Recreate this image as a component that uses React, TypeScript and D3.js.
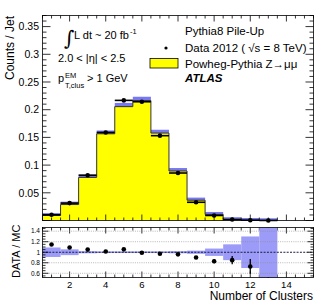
import React from "react";
import * as d3 from "d3";

const bins = [1, 2, 3, 4, 5, 6, 7, 8, 9, 10, 11, 12, 13];
const mcValues = [0.009, 0.0288, 0.0778, 0.1565, 0.2055, 0.2165, 0.1578, 0.0893, 0.0366, 0.011, 0.002, 0.0007, 0.0002];
const dataValues = [0.0103, 0.0314, 0.0817, 0.1589, 0.2168, 0.2143, 0.1531, 0.0857, 0.0329, 0.0091, 0.0017, 0.0005, 0.0001];
const mcRelErr = [0.09, 0.055, 0.02, 0.015, 0.015, 0.015, 0.015, 0.02, 0.03, 0.07, 0.15, 0.3, 1.0];
const ratioValues = [1.146, 1.09, 1.05, 1.015, 1.055, 0.99, 0.97, 0.96, 0.9, 0.83, 0.85, 0.73, 0.4];
const ratioErr = [0.01, 0.01, 0.01, 0.01, 0.01, 0.01, 0.01, 0.01, 0.02, 0.04, 0.08, 0.14, 0.13];
const xTickLabels = [2, 4, 6, 8, 10, 12, 14];
const yMainTickLabels = [0.05, 0.1, 0.15, 0.2, 0.25, 0.3, 0.35];
const yRatioTickLabels = [0.6, 0.8, 1, 1.2, 1.4];

const FONT = "'Liberation Sans', Arial, Helvetica, sans-serif";

export default function App() {
  const W = 329, H = 305;
  const left = 42.5, right = 313.5;
  const mainTop = 15.5, mainBot = 220.5;
  const rTop = 227.5, rBot = 277.5;

  const x = d3.scaleLinear().domain([0.5, 15.5]).range([left, right]);
  const y = d3.scaleLinear().domain([0, 0.37]).range([mainBot, mainTop]);
  const yr = d3.scaleLinear().domain([0.52, 1.47]).range([rBot, rTop]);

  const stepPts: [number, number][] = bins.map((b, i) => [b - 0.5, mcValues[i]]);
  stepPts.push([bins[bins.length - 1] + 0.5, mcValues[mcValues.length - 1]]);
  const area = d3.area<[number, number]>().x(d => x(d[0])).y0(y(0)).y1(d => y(d[1])).curve(d3.curveStepAfter);
  const line = d3.line<[number, number]>().x(d => x(d[0])).y(d => y(d[1])).curve(d3.curveStepAfter);
  const outline = `M${x(0.5)},${y(0)}L` + line(stepPts)!.slice(1) + `L${x(13.5)},${y(0)}`;

  const minorX = d3.range(0.5, 15.5001, 0.5);
  const majorX = d3.range(2, 15, 2);
  const minorYMain = d3.range(0, 0.3701, 0.01);
  const majorYMain = d3.range(0, 0.3701, 0.05);
  const minorYR = d3.range(0.55, 1.4701, 0.05);

  const axisStroke = { stroke: "#000", strokeWidth: 0.8 };

  return (
    <svg width={W} height={H} style={{ display: "block", position: "absolute", left: 0, top: 0 }} fontFamily={FONT}>
      <rect x={0} y={0} width={W} height={H} fill="#fff" />
      {/* main panel: band, fill, outline */}
      {bins.map((b, i) => (
        <rect key={"band" + i} x={x(b - 0.5)} width={x(b + 0.5) - x(b - 0.5)}
          y={y(mcValues[i] * (1 + mcRelErr[i])) - 2}
          height={y(mcValues[i] * (1 - mcRelErr[i])) - y(mcValues[i] * (1 + mcRelErr[i])) + 2}
          fill="#7878f0" />
      ))}
      <path d={area(stepPts)!} fill="#ffff00" />
      <path d={outline} fill="none" stroke="#333" strokeWidth={1} />
      {/* data */}
      {bins.map((b, i) => (
        <g key={"d" + i}>
          <line x1={x(b - 0.5)} x2={x(b + 0.5)} y1={y(dataValues[i])} y2={y(dataValues[i])} stroke="#000" strokeWidth={1.6} />
          <circle cx={x(b)} cy={y(dataValues[i])} r={2.3} fill="#000" />
        </g>
      ))}
      {/* main frame + ticks */}
      <rect x={left} y={mainTop} width={right - left} height={mainBot - mainTop} fill="none" {...axisStroke} />
      {minorX.map((v, i) => {
        const maj = majorX.includes(v);
        const len = maj ? 6 : 3;
        return (
          <g key={"mx" + i}>
            <line x1={x(v)} x2={x(v)} y1={mainBot} y2={mainBot - len} {...axisStroke} />
            <line x1={x(v)} x2={x(v)} y1={mainTop} y2={mainTop + len} {...axisStroke} />
            <line x1={x(v)} x2={x(v)} y1={rBot} y2={rBot - len} {...axisStroke} />
            <line x1={x(v)} x2={x(v)} y1={rTop} y2={rTop + len} {...axisStroke} />
          </g>
        );
      })}
      {minorYMain.map((v, i) => {
        const maj = majorYMain.some(m => Math.abs(m - v) < 1e-6);
        const len = maj ? 8 : 4;
        return (
          <g key={"my" + i}>
            <line x1={left} x2={left + len} y1={y(v)} y2={y(v)} {...axisStroke} />
            <line x1={right} x2={right - len} y1={y(v)} y2={y(v)} {...axisStroke} />
          </g>
        );
      })}
      {yMainTickLabels.map(v => (
        <text key={"yl" + v} x={39} y={y(v) + 3.8} fontSize={10.5} textAnchor="end">{String(v)}</text>
      ))}
      <text transform="translate(14,16) rotate(-90)" fontSize={12} textAnchor="end">Counts / Jet</text>

      {/* text annotations */}
      <text x={64} y={45} fontSize={20} fontFamily="'DejaVu Serif', serif">∫</text>
      <text x={74} y={39} fontSize={11}>L dt ~ 20 fb</text>
      <text x={130} y={33.5} fontSize={7.5}>-1</text>
      <text x={58} y={61.5} fontSize={11}>2.0 &lt; |η| &lt; 2.5</text>
      <text x={58} y={81.5} fontSize={11}>p</text>
      <text x={65} y={77.5} fontSize={7.5}>EM</text>
      <text x={65} y={87.5} fontSize={7.5}>T,clus</text>
      <text x={87} y={81.5} fontSize={11}>&gt; 1 GeV</text>

      {/* legend */}
      <text x={185} y={34.5} fontSize={11.5}>Pythia8 Pile-Up</text>
      <circle cx={166} cy={48} r={1.6} fill="#000" />
      <text x={185} y={52} fontSize={11.5}>Data 2012 ( √s = 8 TeV)</text>
      <rect x={150} y={58.5} width={28} height={9.5} fill="#ffff00" stroke="#000" strokeWidth={0.8} />
      <text x={185} y={67.5} fontSize={11.5}>Powheg-Pythia Z→μμ</text>
      <text x={185} y={82} fontSize={11.5} fontWeight="bold" fontStyle="italic">ATLAS</text>

      {/* ratio panel */}
      <defs>
        <clipPath id="rclip"><rect x={left} y={rTop} width={right - left} height={rBot - rTop} /></clipPath>
      </defs>
      <g clipPath="url(#rclip)">
        {bins.map((b, i) => (
          <rect key={"rb" + i} x={x(b - 0.5)} width={x(b + 0.5) - x(b - 0.5)}
            y={yr(1 + mcRelErr[i])} height={yr(1 - mcRelErr[i]) - yr(1 + mcRelErr[i])} fill="#9c9cf8" />
        ))}
        {yRatioTickLabels.filter(v => v !== 1).map(v => (
          <line key={"g" + v} x1={left} x2={right} y1={yr(v)} y2={yr(v)} stroke="#888" strokeWidth={0.6} strokeDasharray="1,1.2" />
        ))}
        <line x1={left} x2={right} y1={yr(1)} y2={yr(1)} stroke="#1a1a40" strokeWidth={1.2} strokeDasharray="2,1.3" />
        {bins.map((b, i) => (
          <g key={"rp" + i}>
            <line x1={x(b)} x2={x(b)} y1={yr(ratioValues[i] - ratioErr[i])} y2={yr(ratioValues[i] + ratioErr[i])} stroke="#000" strokeWidth={1.3} />
            <circle cx={x(b)} cy={yr(ratioValues[i])} r={2.3} fill="#000" />
          </g>
        ))}
      </g>
      <rect x={left} y={rTop} width={right - left} height={rBot - rTop} fill="none" {...axisStroke} />
      {minorYR.map((v, i) => {
        const maj = yRatioTickLabels.some(m => Math.abs(m - v) < 1e-6);
        const len = maj ? 6 : 3;
        return (
          <g key={"ry" + i}>
            <line x1={left} x2={left + len} y1={yr(v)} y2={yr(v)} {...axisStroke} />
            <line x1={right} x2={right - len} y1={yr(v)} y2={yr(v)} {...axisStroke} />
          </g>
        );
      })}
      {yRatioTickLabels.map(v => (
        <text key={"rl" + v} x={40} y={yr(v) + 2.3} fontSize={6.5} textAnchor="end">{String(v)}</text>
      ))}
      <text transform="translate(20,278) rotate(-90)" fontSize={11}>DATA / MC</text>
      {xTickLabels.map(v => (
        <text key={"xl" + v} x={x(v)} y={288} fontSize={9.5} textAnchor="middle">{v}</text>
      ))}
      <text x={313} y={299.5} fontSize={12} textAnchor="end">Number of Clusters</text>
    </svg>
  );
}
